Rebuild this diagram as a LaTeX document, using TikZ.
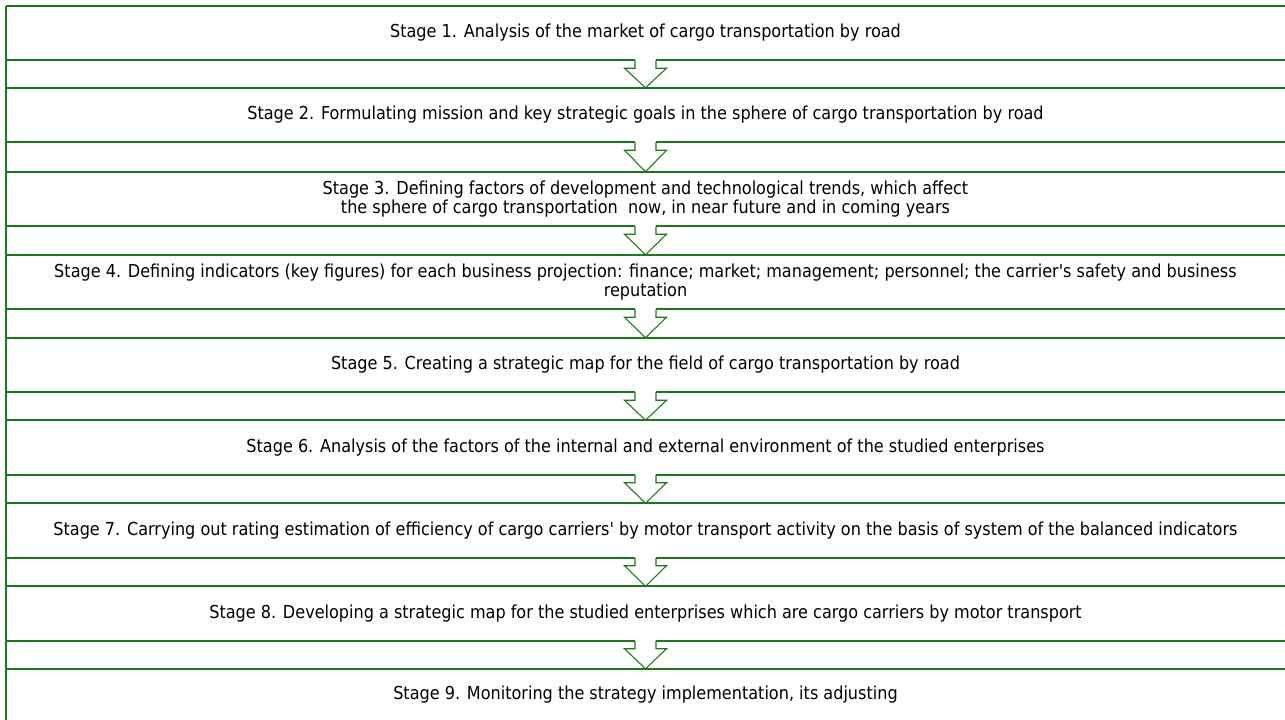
\documentclass[tikz,border=0pt]{standalone}
\usepackage{fontspec}
\setmainfont{DejaVu Sans Condensed}
\usetikzlibrary{calc}
\definecolor{framegreen}{RGB}{28,120,28}
\tikzset{
  stagebox/.style={rectangle, inner sep=0pt, minimum width=1279*0.75pt,
    minimum height=54*0.75pt, align=center,
    font=\fontsize{13.4pt}{14.6pt}\selectfont},
  frameline/.style={draw=framegreen, line width=1.2pt},
  flowarrow/.style={draw=framegreen, line width=0.8pt, line join=miter}
}
% hollow block arrow from the bottom of one stage to the top of the next
\newcommand\stagearrow[2]{%
  \fill[white] ($(#1.south)+(-10.5,-2)$) rectangle ($(#1.south)+(10.5,8)$);
  \draw[flowarrow] ($(#1.south)+(-10.5,0)$) -- ($(#1.south)+(-10.5,8)$)
    -- ($(#1.south)+(-21,8)$) -- (#2.north)
    -- ($(#1.south)+(21,8)$) -- ($(#1.south)+(10.5,8)$)
    -- ($(#1.south)+(10.5,0)$);
}
\begin{document}
\begin{tikzpicture}[x=0.75pt,y=-0.75pt]
\useasboundingbox (0,0) rectangle (1285,720);

\node[stagebox] (s1) at (645.5,33) {Stage 1. Analysis of the market of cargo transportation by road};
\node[stagebox] (s2) at (645.5,115) {Stage 2. Formulating mission and key strategic goals in the sphere of cargo transportation by road};
\node[stagebox] (s3) at (645.5,199) {Stage 3. Defining factors of development and technological trends, which affect\\ the sphere of cargo transportation\ \ now, in near future and in coming years};
\node[stagebox] (s4) at (645.5,282) {Stage 4. Defining indicators (key figures) for each business projection: finance; market; management; personnel; the carrier\textquotesingle s safety and business\\reputation};
\node[stagebox] (s5) at (645.5,365) {Stage 5. Creating a strategic map for the field of cargo transportation by road};
\node[stagebox] (s6) at (645.5,447.5) {Stage 6. Analysis of the factors of the internal and external environment of the studied enterprises};
\node[stagebox] (s7) at (645.5,530.5) {Stage 7. Carrying out rating estimation of efficiency of cargo carriers\textquotesingle{} by motor transport activity on the basis of system of the balanced indicators};
\node[stagebox] (s8) at (645.5,613.5) {Stage 8. Developing a strategic map for the studied enterprises which are cargo carriers by motor transport};
\node[stagebox, minimum height=51*0.75pt] (s9) at (645.5,694.5) {Stage 9. Monitoring the strategy implementation, its adjusting};

% frame lines of the stages
\foreach \st in {s1,s2,s3,s4,s5,s6,s7,s8} {
  \draw[frameline] (\st.north west) -- (\st.north east);
  \draw[frameline] (\st.south west) -- (\st.south east);
}
\draw[frameline] (s9.north west) -- (s9.north east);
\draw[frameline] (s1.north west) -- (s9.south west);

% arrows between stages
\stagearrow{s1}{s2}
\stagearrow{s2}{s3}
\stagearrow{s3}{s4}
\stagearrow{s4}{s5}
\stagearrow{s5}{s6}
\stagearrow{s6}{s7}
\stagearrow{s7}{s8}
\stagearrow{s8}{s9}
\end{tikzpicture}
\end{document}
